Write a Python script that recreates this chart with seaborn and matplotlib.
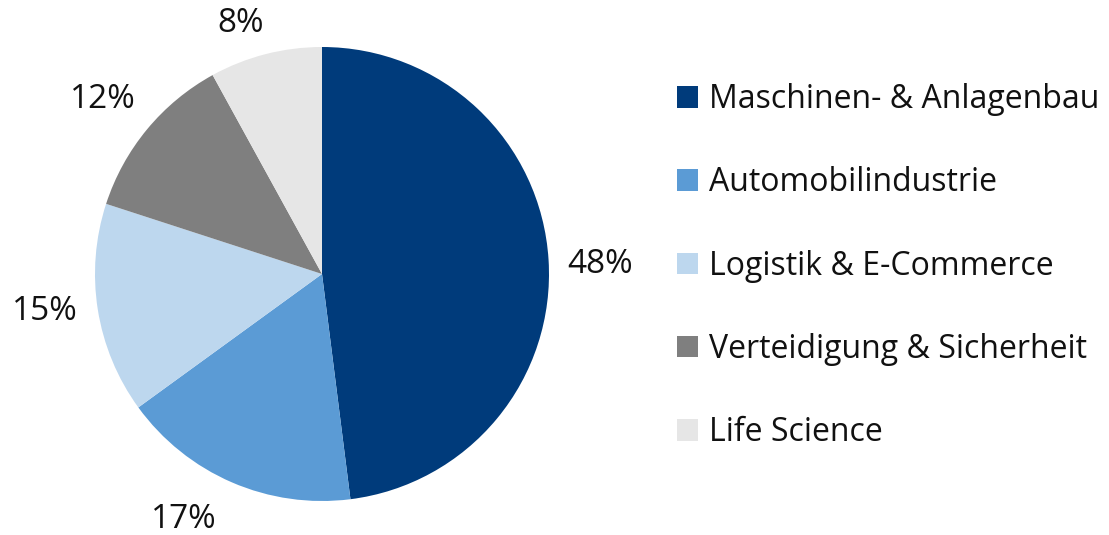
import matplotlib
matplotlib.use("Agg")
import matplotlib.pyplot as plt
import seaborn as sns

sns.set_theme(style="white")
plt.rcParams['font.family'] = ['Open Sans', 'DejaVu Sans']

categories = ["Maschinen- & Anlagenbau", "Automobilindustrie", "Logistik & E-Commerce",
              "Verteidigung & Sicherheit", "Life Science"]
values = [48, 17, 15, 12, 8]
colors = ["#003B7B", "#5B9BD5", "#BDD7EE", "#7F7F7F", "#E6E6E6"]

# label anchor positions (x centre, baseline y) in pie radius units
label_pos = [(1.225, 0.004), (-0.608, -1.117), (-1.220, -0.203), (-0.965, 0.731), (-0.357, 1.066)]

W, H = 1109, 535
fig = plt.figure(figsize=(W / 100, H / 100), dpi=100)
cx, cy, r = 322, 274, 227
ax = fig.add_axes([(cx - r) / W, (H - cy - r) / H, 2 * r / W, 2 * r / H])

wedges, texts, autotexts = ax.pie(
    values, colors=colors, startangle=90, counterclock=False,
    autopct=lambda p: f"{p:.0f}%", pctdistance=1.2,
    wedgeprops=dict(linewidth=0),
    textprops=dict(fontsize=24, color="#111111"))
for t, (x, y) in zip(autotexts, label_pos):
    t.set_position((x, y))
    t.set_ha("center")
    t.set_va("baseline")
    t.set_clip_on(False)
ax.set_aspect("equal")
ax.set_xlim(-1, 1)
ax.set_ylim(-1, 1)
ax.axis("off")

leg = fig.legend(wedges, categories, loc="upper left",
                 bbox_to_anchor=(677 / W, 1 - 83 / H),
                 frameon=False, fontsize=23, handlelength=0.66, handleheight=0.66,
                 handletextpad=0.33, labelspacing=1.575, borderaxespad=0, borderpad=0)
for t in leg.get_texts():
    t.set_color("#111111")

fig.savefig("out.png", dpi=100)
